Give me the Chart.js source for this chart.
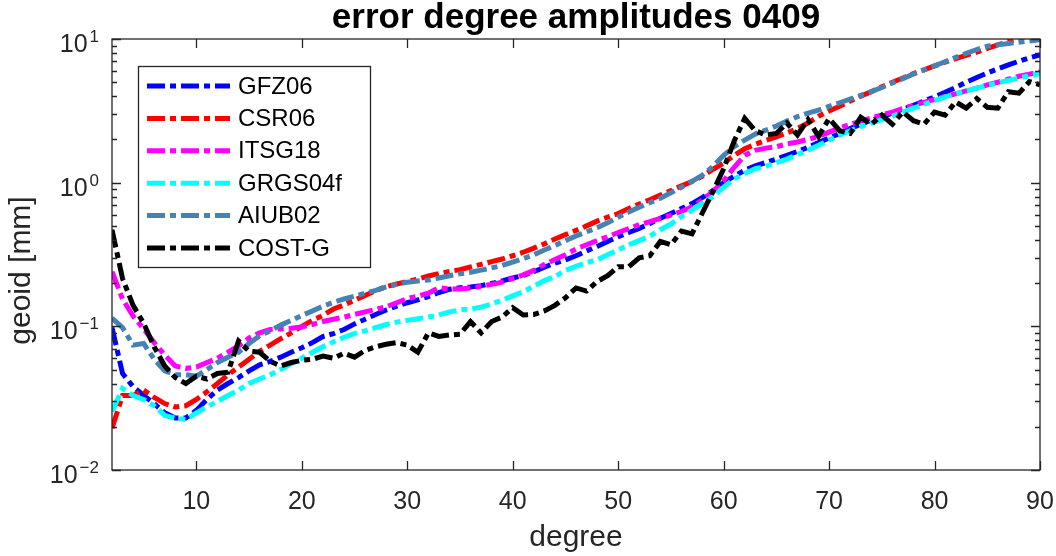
<!DOCTYPE html>
<html>
<head>
<meta charset="utf-8">
<script src="https://cdn.jsdelivr.net/npm/chart.js@4.4.0/dist/chart.umd.min.js"></script>
<style>
  html, body { margin: 0; padding: 0; background: #fff; }
  #wrap { width: 1056px; height: 556px; }
</style>
</head>
<body>
<div id="wrap"><canvas id="myChart" width="1056" height="556"></canvas></div>
<script>
var titleText = 'error degree amplitudes 0409';
var xTitle = 'degree';
var yTitle = 'geoid [mm]';

var degrees = [2, 3, 4, 5, 6, 7, 8, 9, 10, 11, 12, 13, 14, 15, 16, 17, 18, 19, 20, 21,
  22, 23, 24, 25, 26, 27, 28, 29, 30, 31, 32, 33, 34, 35, 36, 37, 38, 39, 40, 41,
  42, 43, 44, 45, 46, 47, 48, 49, 50, 51, 52, 53, 54, 55, 56, 57, 58, 59, 60, 61,
  62, 63, 64, 65, 66, 67, 68, 69, 70, 71, 72, 73, 74, 75, 76, 77, 78, 79, 80, 81,
  82, 83, 84, 85, 86, 87, 88, 89, 90];

var xTicks = [10, 20, 30, 40, 50, 60, 70, 80, 90];
var yTicks = [0.01, 0.1, 1, 10];
var yTickExps = ['\u22122', '\u22121', '0', '1'];

var labels = ['GFZ06', 'CSR06', 'ITSG18', 'GRGS04f', 'AIUB02', 'COST-G'];
var colors = ['#0000ff', '#ff0000', '#ff00ff', '#00ffff', '#4682b4', '#000000'];

var gfz06 = [0.098, 0.047, 0.038, 0.033, 0.029, 0.025, 0.023, 0.023, 0.026, 0.031,
  0.036, 0.040, 0.044, 0.049, 0.054, 0.057, 0.061, 0.066, 0.071, 0.077,
  0.085, 0.089, 0.095, 0.104, 0.112, 0.121, 0.130, 0.138, 0.146, 0.153,
  0.161, 0.172, 0.181, 0.186, 0.188, 0.192, 0.199, 0.207, 0.217, 0.226,
  0.240, 0.258, 0.275, 0.290, 0.31, 0.335, 0.36, 0.39, 0.42, 0.45,
  0.48, 0.52, 0.565, 0.61, 0.66, 0.715, 0.79, 0.88, 1.0, 1.11,
  1.22, 1.31, 1.38, 1.46, 1.55, 1.65, 1.76, 1.90, 2.05, 2.2,
  2.38, 2.55, 2.72, 2.88, 3.05, 3.25, 3.45, 3.7, 3.95, 4.25,
  4.6, 5.0, 5.4, 5.8, 6.2, 6.6, 7.0, 7.4, 7.75];

var csr06 = [0.0195, 0.033, 0.033, 0.036, 0.032, 0.029, 0.0275, 0.028, 0.031, 0.035,
  0.040, 0.046, 0.052, 0.059, 0.067, 0.074, 0.082, 0.090, 0.100, 0.110,
  0.119, 0.132, 0.141, 0.152, 0.164, 0.177, 0.189, 0.197, 0.205, 0.213,
  0.224, 0.233, 0.241, 0.248, 0.259, 0.270, 0.282, 0.294, 0.310, 0.328,
  0.350, 0.375, 0.405, 0.435, 0.465, 0.50, 0.54, 0.575, 0.61, 0.66,
  0.71, 0.76, 0.82, 0.88, 0.95, 1.02, 1.11, 1.24, 1.37, 1.55,
  1.72, 1.85, 1.97, 2.08, 2.22, 2.38, 2.6, 2.9, 3.15, 3.4,
  3.7, 4.0, 4.3, 4.65, 5.0, 5.35, 5.75, 6.1, 6.5, 6.9,
  7.3, 7.7, 8.1, 8.6, 9.1, 9.6, 10.1, 10.6, 11.0];

var itsg18 = [0.24, 0.155, 0.118, 0.096, 0.077, 0.063, 0.053, 0.051, 0.052, 0.056,
  0.060, 0.066, 0.073, 0.083, 0.090, 0.095, 0.096, 0.097, 0.099, 0.103,
  0.108, 0.112, 0.116, 0.121, 0.126, 0.131, 0.137, 0.146, 0.156, 0.162,
  0.170, 0.186, 0.182, 0.182, 0.185, 0.19, 0.196, 0.203, 0.215, 0.228,
  0.245, 0.27, 0.292, 0.315, 0.345, 0.37, 0.395, 0.42, 0.45, 0.48,
  0.51, 0.535, 0.565, 0.595, 0.63, 0.68, 0.76, 0.87, 1.03, 1.28,
  1.55, 1.68, 1.74, 1.78, 1.86, 1.92, 2.0, 2.1, 2.25, 2.4,
  2.55, 2.68, 2.82, 2.96, 3.1, 3.28, 3.45, 3.62, 3.8, 3.98,
  4.15, 4.35, 4.55, 4.8, 5.0, 5.25, 5.5, 5.7, 5.9];

var grgs04f = [0.0255, 0.037, 0.033, 0.031, 0.028, 0.024, 0.023, 0.0224, 0.025, 0.0275,
  0.030, 0.033, 0.036, 0.040, 0.043, 0.046, 0.050, 0.055, 0.060, 0.066,
  0.072, 0.078, 0.084, 0.089, 0.093, 0.098, 0.103, 0.107, 0.110, 0.113,
  0.116, 0.120, 0.126, 0.130, 0.132, 0.136, 0.143, 0.152, 0.163, 0.174,
  0.19, 0.208, 0.222, 0.245, 0.262, 0.278, 0.29, 0.315, 0.34, 0.37,
  0.395, 0.425, 0.47, 0.515, 0.58, 0.645, 0.72, 0.80, 0.93, 1.06,
  1.16, 1.25, 1.3, 1.38, 1.46, 1.57, 1.68, 1.82, 1.98, 2.14,
  2.3, 2.46, 2.6, 2.75, 2.9, 3.1, 3.3, 3.5, 3.72, 3.95,
  4.15, 4.35, 4.55, 4.75, 4.95, 5.15, 5.35, 5.55, 5.75];

var aiub02 = [0.114, 0.098, 0.074, 0.076, 0.059, 0.049, 0.046, 0.046, 0.045, 0.050,
  0.056, 0.061, 0.066, 0.076, 0.086, 0.093, 0.102, 0.110, 0.119, 0.128,
  0.138, 0.147, 0.155, 0.162, 0.170, 0.178, 0.188, 0.196, 0.203, 0.207,
  0.21, 0.217, 0.225, 0.232, 0.238, 0.246, 0.255, 0.265, 0.28, 0.296,
  0.315, 0.34, 0.365, 0.395, 0.425, 0.455, 0.485, 0.525, 0.575, 0.625,
  0.675, 0.725, 0.78, 0.85, 0.93, 1.02, 1.13, 1.3, 1.55, 1.78,
  1.98, 2.18, 2.32, 2.48, 2.68, 2.88, 3.05, 3.2, 3.4, 3.6,
  3.82, 4.05, 4.3, 4.6, 4.95, 5.3, 5.7, 6.1, 6.5, 6.95,
  7.45, 7.95, 8.45, 8.9, 9.1, 9.3, 9.5, 9.7, 9.9];

var costg = [0.47, 0.215, 0.14, 0.105, 0.072, 0.053, 0.044, 0.040, 0.045, 0.043,
  0.047, 0.048, 0.079, 0.067, 0.066, 0.057, 0.053, 0.056, 0.058, 0.059,
  0.062, 0.060, 0.065, 0.061, 0.068, 0.072, 0.075, 0.077, 0.074, 0.066,
  0.090, 0.085, 0.087, 0.088, 0.108, 0.090, 0.108, 0.116, 0.135, 0.120,
  0.121, 0.128, 0.140, 0.158, 0.185, 0.176, 0.205, 0.225, 0.26, 0.26,
  0.30, 0.31, 0.39, 0.37, 0.46, 0.44, 0.62, 0.87, 1.25, 1.95,
  2.8, 2.3, 2.15, 2.2, 2.6, 2.15, 2.75, 2.1, 2.8, 2.3,
  2.2, 2.85, 2.55, 2.95, 2.55, 3.1, 2.7, 2.55, 3.1, 2.95,
  3.65, 3.3, 3.85, 3.35, 3.3, 4.3, 4.2, 5.05, 4.8];

var seriesValues = [gfz06, csr06, itsg18, grgs04f, aiub02, costg];

var FONT = '"Liberation Sans", Arial, Helvetica, sans-serif';
var AXIS_COLOR = '#262626';

Chart.defaults.font.family = FONT;
Chart.defaults.color = AXIS_COLOR;

// box, inward ticks, 10^n labels and the y label, MATLAB style
var axesBox = {
  id: 'axesBox',
  afterDatasetsDraw: function(chart) {
    var c = chart.ctx, a = chart.chartArea;
    var xs = chart.scales.x, ys = chart.scales.y;
    c.save();
    c.strokeStyle = AXIS_COLOR;
    c.lineWidth = 1.3;
    c.strokeRect(a.left, a.top, a.right - a.left, a.bottom - a.top);
    c.beginPath();
    xTicks.forEach(function(v) {
      var px = Math.round(xs.getPixelForValue(v)) + 0.5;
      c.moveTo(px, a.bottom); c.lineTo(px, a.bottom - 9);
      c.moveTo(px, a.top); c.lineTo(px, a.top + 9);
    });
    yTicks.forEach(function(v, i) {
      var last = i === yTicks.length - 1 ? 1 : 9;
      for (var m = 1; m <= last; m++) {
        var py = Math.round(ys.getPixelForValue(v * m)) + 0.5;
        var len = m === 1 ? 9 : 5;
        c.moveTo(a.left, py); c.lineTo(a.left + len, py);
        c.moveTo(a.right, py); c.lineTo(a.right - len, py);
      }
    });
    c.stroke();
    c.restore();
  },
  afterDraw: function(chart) {
    var c = chart.ctx, ys = chart.scales.y, a = chart.chartArea;
    var right = 99;
    c.save();
    c.fillStyle = AXIS_COLOR;
    c.textBaseline = 'alphabetic';
    yTicks.forEach(function(v, i) {
      var py = ys.getPixelForValue(v);
      c.font = '17px ' + FONT;
      var ew = c.measureText(yTickExps[i]).width;
      c.textAlign = 'left';
      c.fillText(yTickExps[i], right - ew, py + 3);
      c.font = '25px ' + FONT;
      c.textAlign = 'right';
      c.fillText('10', right - ew - 2, py + 13);
    });
    // y label
    c.translate(22, (a.top + a.bottom) / 2 + 16);
    c.rotate(-Math.PI / 2);
    c.font = '30px ' + FONT;
    c.textAlign = 'center';
    c.textBaseline = 'middle';
    c.fillText(yTitle, 0, 0);
    c.restore();
  }
};

var legendBox = {
  id: 'legendBox',
  afterDraw: function(chart) {
    var c = chart.ctx, a = chart.chartArea;
    var x0 = a.left + 26, y0 = a.top + 27, w = 232, h = 201;
    c.save();
    c.fillStyle = '#fff';
    c.fillRect(x0, y0, w, h);
    c.strokeStyle = AXIS_COLOR;
    c.lineWidth = 1.3;
    c.strokeRect(x0 + 0.5, y0 + 0.5, w, h);
    chart.data.datasets.forEach(function(ds, i) {
      var cy = y0 + 20 + i * 32.4;
      c.beginPath();
      c.setLineDash(ds.borderDash);
      c.strokeStyle = ds.borderColor;
      c.lineWidth = ds.borderWidth;
      c.moveTo(x0 + 9, cy);
      c.lineTo(x0 + 92, cy);
      c.stroke();
      c.setLineDash([]);
      c.fillStyle = '#000';
      c.font = '24px ' + FONT;
      c.textAlign = 'left';
      c.textBaseline = 'middle';
      c.fillText(ds.label, x0 + 100, cy + 1);
    });
    c.restore();
  }
};

var datasets = labels.map(function(name, i) {
  return {
    label: name,
    data: degrees.map(function(d, k) { return { x: d, y: seriesValues[i][k] }; }),
    borderColor: colors[i],
    backgroundColor: colors[i],
    borderWidth: 5,
    borderDash: [18, 5, 6, 5],
    borderCapStyle: 'butt',
    pointRadius: 0,
    tension: 0,
    fill: false,
    clip: 0,
    order: labels.length - 1 - i
  };
});

var ctx = document.getElementById('myChart').getContext('2d');
var chart = new Chart(ctx, {
  type: 'line',
  data: { datasets: datasets },
  options: {
    responsive: false,
    animation: false,
    layout: { padding: { left: 0, right: 16, top: 0, bottom: 0 } },
    plugins: {
      legend: { display: false },
      tooltip: { enabled: false },
      title: {
        display: true,
        fullSize: false,
        text: titleText,
        color: '#000',
        font: { size: 35, weight: 'bold', lineHeight: 1 },
        padding: { top: 1, bottom: 3 }
      }
    },
    scales: {
      x: {
        type: 'linear',
        min: 2,
        max: 90,
        afterBuildTicks: function(s) { s.ticks = xTicks.map(function(v) { return { value: v }; }); },
        afterFit: function(s) { s.height = 86; s.paddingLeft = 0; s.paddingRight = 0; },
        grid: { display: false, drawTicks: false },
        border: { display: false },
        ticks: { font: { size: 25 }, padding: 17, maxRotation: 0, autoSkip: false },
        title: { display: true, text: xTitle, font: { size: 30 }, padding: { top: 0, bottom: 0 } }
      },
      y: {
        type: 'logarithmic',
        min: 0.01,
        max: 10,
        afterBuildTicks: function(s) { s.ticks = yTicks.map(function(v) { return { value: v }; }); },
        afterFit: function(s) { s.width = 112; s.paddingTop = 0; s.paddingBottom = 0; },
        grid: { display: false, drawTicks: false },
        border: { display: false },
        ticks: { display: false },
        title: { display: false, text: yTitle }
      }
    }
  },
  plugins: [axesBox, legendBox]
});
</script>
</body>
</html>
